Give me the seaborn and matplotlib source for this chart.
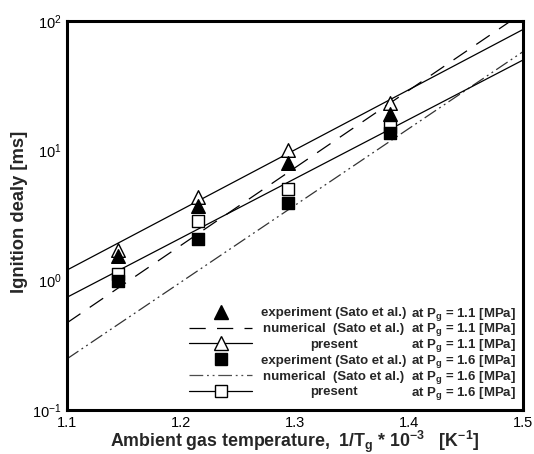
import numpy as np
import pandas as pd
import matplotlib
matplotlib.use("Agg")
import matplotlib.pyplot as plt
import seaborn as sns
from matplotlib.lines import Line2D
from matplotlib.ticker import LogLocator, MultipleLocator, NullFormatter

# ---------------- data ----------------
x_points = [1.145, 1.2145, 1.2935, 1.383]
exp_11 = [1.53, 3.73, 8.06, 19.3]
present_11_pts = [1.72, 4.39, 10.2, 23.3]
exp_16 = [0.98, 2.09, 3.96, 13.7]
present_16_pts = [1.11, 2.89, 5.08, 15.2]

x_line = [1.1, 1.5]
num_11 = [0.47, 116.0]
present_11_line = [1.2, 86.0]
num_16 = [0.248, 58.0]
present_16_line = [0.74, 50.0]

left_labels = ["experiment (Sato et al.)", "numerical  (Sato et al.)", "present",
               "experiment (Sato et al.)", "numerical  (Sato et al.)", "present"]
right_labels = [r"at P$_\mathregular{g}$ = 1.1 [MPa]"] * 3 + [r"at P$_\mathregular{g}$ = 1.6 [MPa]"] * 3

xlabel = r"Ambient gas temperature,  1/T$_\mathregular{g}$ * 10$^\mathregular{-3}$   [K$^\mathregular{-1}$]"
ylabel = "Ignition dealy [ms]"

# ---------------- style ----------------
sns.set_style("white")
plt.rcParams["font.family"] = ["Liberation Sans", "DejaVu Sans"]
plt.rcParams["mathtext.default"] = "regular"

fig = plt.figure(figsize=(5.34, 4.54), dpi=100)
ax = fig.add_axes([67 / 534, 1 - 410 / 454, (523 - 67) / 534, (410 - 21) / 454])

LW = 0.9
dash_11 = (0, (13, 9))
dash_16 = (0, (11, 3, 1.5, 3, 1.5, 3))

df_lines = pd.DataFrame({"x": x_line, "num11": num_11, "p11": present_11_line,
                         "num16": num_16, "p16": present_16_line})

for col, ls, c in [("num11", dash_11, "black"), ("p11", "-", "black"),
                   ("num16", dash_16, "0.2"), ("p16", "-", "black")]:
    sns.lineplot(data=df_lines, x="x", y=col, ax=ax, color=c, linewidth=LW,
                 linestyle=ls, estimator=None, sort=False, zorder=2)

df_pts = pd.DataFrame({"x": x_points, "e11": exp_11, "p11": present_11_pts,
                       "e16": exp_16, "p16": present_16_pts})

TRI = 9.8
SQ = 8.7
sns.scatterplot(data=df_pts, x="x", y="p11", ax=ax, marker="^", s=TRI ** 2,
                facecolor="white", edgecolor="black", linewidth=1.0, zorder=3)
sns.scatterplot(data=df_pts, x="x", y="p16", ax=ax, marker="s", s=SQ ** 2,
                facecolor="white", edgecolor="black", linewidth=1.0, zorder=3)
sns.scatterplot(data=df_pts, x="x", y="e11", ax=ax, marker="^", s=TRI ** 2,
                color="black", edgecolor="black", linewidth=1.0, zorder=4)
sns.scatterplot(data=df_pts, x="x", y="e16", ax=ax, marker="s", s=SQ ** 2,
                color="black", edgecolor="black", linewidth=1.0, zorder=4)

ax.set_yscale("log")
ax.set_xlim(1.1, 1.5)
ax.set_ylim(0.1, 100)

ax.xaxis.set_major_locator(MultipleLocator(0.1))
ax.xaxis.set_minor_locator(MultipleLocator(0.02))
ax.yaxis.set_major_locator(LogLocator(base=10, subs=(1.0,)))
ax.yaxis.set_minor_locator(LogLocator(base=10, subs=np.arange(2, 10)))
ax.yaxis.set_minor_formatter(NullFormatter())

ax.tick_params(which="both", direction="in", top=False, right=False,
               colors="black", labelsize=10.5)
ax.tick_params(which="major", length=7, width=1.6, pad=4)
ax.tick_params(which="minor", length=4.5, width=1.0)

for sp in ax.spines.values():
    sp.set_linewidth(2.2)
    sp.set_color("black")
    sp.set_visible(True)

ax.set_xlabel(xlabel, fontsize=12.8, fontweight="bold", labelpad=-0.3)
ax.set_ylabel(ylabel, fontsize=13.2, fontweight="bold")
ax.yaxis.set_label_coords(-0.085, 0.51)

# ---------------- legend ----------------
handles = [
    Line2D([], [], ls="none", marker="^", ms=TRI, mfc="black", mec="black"),
    Line2D([], [], color="black", lw=LW, ls=dash_11),
    Line2D([], [], color="black", lw=LW, marker="^", ms=TRI, mfc="white", mec="black"),
    Line2D([], [], ls="none", marker="s", ms=SQ, mfc="black", mec="black"),
    Line2D([], [], color="0.3", lw=LW, ls=dash_16),
    Line2D([], [], color="black", lw=LW, marker="s", ms=SQ, mfc="white", mec="black"),
]
LFS = 9.5
leg = ax.legend(handles, [""] * 6, loc="lower left",
                bbox_to_anchor=((189 - 67) / 456, 0.03), frameon=False,
                handlelength=4.8, handletextpad=0, borderpad=0, borderaxespad=0,
                labelspacing=0.27, fontsize=LFS)

fig.canvas.draw()
renderer = fig.canvas.get_renderer()
inv = ax.transAxes.inverted()
cap = 0.716 * LFS * 100 / 72
for h, lt, rt in zip(leg.legend_handles, left_labels, right_labels):
    bb = h.get_window_extent(renderer)
    yc = 0.5 * (bb.y0 + bb.y1)
    _, yb = inv.transform((0, yc - cap / 2))
    ax.text((334 - 67) / 456, yb, lt, ha="center", va="baseline",
            fontsize=LFS, fontweight="bold", transform=ax.transAxes)
    ax.text((411 - 67) / 456, yb, rt, ha="left", va="baseline",
            fontsize=LFS, fontweight="bold", transform=ax.transAxes)

fig.savefig("out.png", dpi=100, facecolor="white")
